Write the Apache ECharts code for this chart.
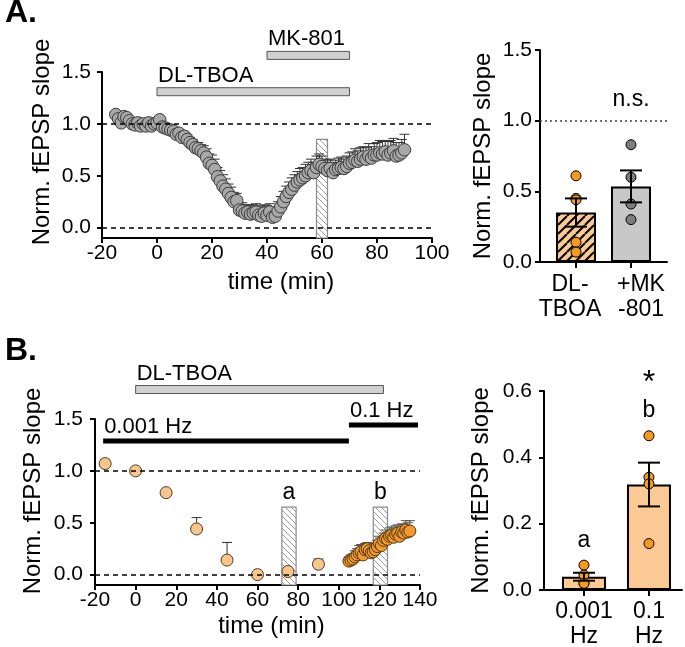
<!DOCTYPE html>
<html><head><meta charset="utf-8">
<script src="https://cdn.jsdelivr.net/npm/echarts@6/dist/echarts.min.js"></script>
<style>html,body{margin:0;padding:0;background:#fff}#c{width:685px;height:647px}</style>
</head><body><div id="c"></div>
<script>
// ---------- Panel A: time course ----------
const timeA = [-15,-14,-13,-12,-11,-10,-9,-8,-7,-6,-5,-4,-3,-2,-1,0,1,2,3,4,5,6,7,8,9,10,11,12,13,14,15,16,17,18,19,20,21,22,23,24,25,26,27,28,29,30,31,32,33,34,35,36,37,38,39,40,41,42,43,44,45,46,47,48,49,50,51,52,53,54,55,56,57,58,59,60,61,62,63,64,65,66,67,68,69,70,71,72,73,74,75,76,77,78,79,80,81,82,83,84,85,86,87,88,89,90];
const slopeA = [1.09,1.05,1.01,1.07,1.06,1.03,1.00,0.99,1.01,0.98,
  1.00,0.98,1.01,0.98,1.00,1.01,1.04,0.97,0.96,0.95,
  0.94,0.93,0.90,0.91,0.87,0.88,0.85,0.82,0.80,0.77,
  0.76,0.74,0.72,0.68,0.62,0.60,0.56,0.49,0.45,0.40,
  0.37,0.33,0.29,0.25,0.26,0.17,0.16,0.14,0.15,0.13,
  0.14,0.15,0.12,0.11,0.14,0.12,0.15,0.10,0.11,0.16,
  0.20,0.25,0.30,0.34,0.37,0.41,0.44,0.46,0.48,0.50,
  0.53,0.55,0.53,0.58,0.61,0.59,0.57,0.55,0.57,0.53,
  0.56,0.57,0.58,0.57,0.59,0.62,0.63,0.65,0.64,0.66,
  0.68,0.66,0.69,0.67,0.70,0.70,0.72,0.71,0.73,0.70,
  0.72,0.74,0.69,0.70,0.72,0.75];
const errA = [0.02,0.02,0.02,0.02,0.02,0.02,0.02,0.02,0.02,0.02,0.02,0.02,0.02,0.02,0.02,
  0.02,0.02,0.02,0.02,0.02,0.02,0.02,0.02,0.02,
  0.04,0.04,0.05,0.05,0.05,0.05,0.06,0.06,0.07,
  0.08,0.09,0.10,0.10,0.09,0.10,0.11,0.10,0.09,0.10,0.09,0.07,
  0.07,0.08,0.08,0.07,0.08,0.08,0.08,0.09,0.09,0.08,0.09,0.08,0.10,0.09,
  0.09,0.10,0.10,0.10,0.10,0.11,0.10,0.10,0.11,0.10,0.11,0.10,0.11,0.10,
  0.11,0.10,0.10,0.09,0.10,0.09,0.10,0.09,0.10,0.10,0.09,0.10,0.10,0.10,0.11,
  0.10,0.11,0.10,0.11,0.12,0.11,0.11,0.12,0.12,0.12,0.11,0.13,0.12,0.12,0.13,0.12,0.13,0.15];
const drugNamesA = ['DL-TBOA', 'MK-801'];
const drugStartA = [0, 40];
const drugEndA = [70, 70];
const windowStartA = [58];
const windowEndA = [62];

// ---------- Panel A: bar summary ----------
const catsA = ['DL-\nTBOA', '+MK\n-801'];
const meanA = [0.35, 0.535];
const semA = [0.10, 0.113];
const dotsA_TBOA = [0.61, 0.45, 0.44, 0.14, 0.07];
const dotsA_MK = [0.83, 0.60, 0.41, 0.30];

// ---------- Panel B: time course ----------
const timeB_slow = [-15, 0, 15, 30, 45, 60, 75, 90];
const slopeB_slow = [1.07, 1.00, 0.79, 0.44, 0.14, 0.00, 0.03, 0.10];
const errB_slow = [0.04, 0.02, 0.01, 0.11, 0.17, 0.01, 0.01, 0.05];
const timeB_fast = [105,106,107,108,109,110,111,112,113,114,115,116,117,118,119,120,121,122,123,124,125,126,127,128,129,130,131,132,133,134,135];
const slopeB_fast = [0.13,0.14,0.15,0.17,0.19,0.21,0.22,0.19,0.24,0.25,0.23,0.21,0.22,0.24,0.27,0.30,0.28,0.33,0.35,0.34,0.37,0.38,0.36,0.39,0.40,0.37,0.41,0.40,0.43,0.41,0.42];
const errB_fast = [0.04,0.05,0.05,0.06,0.06,0.07,0.07,0.06,0.06,0.06,0.05,0.05,0.05,0.06,0.06,0.07,0.07,0.07,0.08,0.07,0.08,0.08,0.07,0.08,0.08,0.07,0.08,0.08,0.09,0.09,0.10];
const drugNamesB = ['DL-TBOA'];
const drugStartB = [0];
const drugEndB = [122];
const freqNamesB = ['0.001 Hz', '0.1 Hz'];
const freqStartB = [-16, 105];
const freqEndB = [105, 139];
const windowStartB = [72, 117];
const windowEndB = [79, 124];
const windowLabelsB = ['a', 'b'];

// ---------- Panel B: bar summary ----------
const catsB = ['0.001\nHz', '0.1\nHz'];
const meanB = [0.04, 0.318];
const semB = [0.012, 0.066];
const dotsB_slow = [0.075, 0.045, 0.02, 0.02];
const dotsB_fast = [0.465, 0.34, 0.32, 0.14];
const sigLabelsB = ['a', 'b', '*'];

// ================= rendering =================
const FONT = '"Liberation Sans", Arial, Helvetica, sans-serif';

function hatch(bg, fg, size, lw, dir) {
  const c = document.createElement('canvas');
  c.width = size; c.height = size;
  const g = c.getContext('2d');
  if (bg) { g.fillStyle = bg; g.fillRect(0, 0, size, size); }
  g.strokeStyle = fg; g.lineWidth = lw;
  g.beginPath();
  for (const k of [-size, 0, size]) {
    if (dir === '/') { g.moveTo(k, size); g.lineTo(k + size, 0); }
    else { g.moveTo(k, 0); g.lineTo(k + size, size); }
  }
  g.stroke();
  return { image: c, repeat: 'repeat' };
}
const hatchBar = hatch('#fbc994', '#000', 9, 2, '/');
const hatchBox = hatch('#fff', '#9a9a9a', 6, 1, '\\');

function xAxisValue(gi, min, max, interval, name, nameGap) {
  return {
    type: 'value', gridIndex: gi, min, max, interval,
    name, nameLocation: 'middle', nameGap,
    nameTextStyle: { color: '#000', fontSize: 24, fontFamily: FONT, padding: [0, 0, 0, 28] },
    axisLine: { show: true, onZero: false, lineStyle: { color: '#000', width: 2 } },
    axisTick: { show: true, length: 5, lineStyle: { color: '#000', width: 2 } },
    splitLine: { show: false },
    axisLabel: { color: '#000', fontSize: 21, fontFamily: FONT, margin: 5, showMinLabel: true, showMaxLabel: true, hideOverlap: false }
  };
}
function xAxisCat(gi, min, max, cats, showLabels) {
  return {
    type: 'value', gridIndex: gi, min, max,
    axisLine: { show: true, onZero: false, lineStyle: { color: '#000', width: 2 } },
    axisTick: { show: true, length: 6, customValues: [0, 1], lineStyle: { color: '#000', width: 2 } },
    splitLine: { show: false },
    axisLabel: { show: showLabels, color: '#000', fontSize: 23, lineHeight: 25, fontFamily: FONT, margin: 9,
      showMinLabel: true, showMaxLabel: true, hideOverlap: false,
      customValues: [0, 1], formatter: v => cats[Math.abs(Math.round(v))] }
  };
}
function yAxisDef(gi, min, max, ticks, margin, nameGap, shift) {
  return {
    type: 'value', gridIndex: gi, min, max,
    name: 'Norm. fEPSP slope', nameLocation: 'middle', nameGap,
    nameTextStyle: { color: '#000', fontSize: 24, fontFamily: FONT, padding: [0, 0, 0, shift] },
    axisLine: { show: true, onZero: false, lineStyle: { color: '#000', width: 2 } },
    axisTick: { show: true, length: 5, customValues: ticks, lineStyle: { color: '#000', width: 2 } },
    splitLine: { show: false },
    axisLabel: { color: '#000', fontSize: 21, fontFamily: FONT, margin, showMinLabel: true, showMaxLabel: true,
      customValues: ticks, formatter: v => v.toFixed(1) }
  };
}

function upperErr(color) {
  return function (params, api) {
    const x = api.value(0), y = api.value(1), e = api.value(2);
    const p0 = api.coord([x, y]), p1 = api.coord([x, y + e]);
    const hw = 5;
    return { type: 'group', children: [
      { type: 'line', shape: { x1: p0[0], y1: p0[1], x2: p1[0], y2: p1[1] }, style: { stroke: color, lineWidth: 1 } },
      { type: 'line', shape: { x1: p1[0] - hw, y1: p1[1], x2: p1[0] + hw, y2: p1[1] }, style: { stroke: color, lineWidth: 1 } }
    ] };
  };
}
function bothErr(params, api) {
  const x = api.value(0), m = api.value(1), s = api.value(2);
  const a = api.coord([x, m + s]), b = api.coord([x, m - s]);
  const hw = 11;
  const st = { stroke: '#000', lineWidth: 2 };
  return { type: 'group', children: [
    { type: 'line', shape: { x1: a[0], y1: a[1], x2: b[0], y2: b[1] }, style: st },
    { type: 'line', shape: { x1: a[0] - hw, y1: a[1], x2: a[0] + hw, y2: a[1] }, style: st },
    { type: 'line', shape: { x1: b[0] - hw, y1: b[1], x2: b[0] + hw, y2: b[1] }, style: st }
  ] };
}
function windowBox(labels) {
  return function (params, api) {
    const a = api.coord([api.value(0), api.value(2)]);
    const b = api.coord([api.value(1), api.value(2)]);
    const cs = params.coordSys;
    const bottom = cs.y + cs.height;
    const ch = [{ type: 'rect', shape: { x: a[0], y: a[1], width: b[0] - a[0], height: bottom - a[1] },
      style: { fill: hatchBox, stroke: '#8a8a8a', lineWidth: 1.2 } }];
    if (labels && labels[params.dataIndex]) {
      ch.push({ type: 'text', x: (a[0] + b[0]) / 2, y: a[1] - 3,
        style: { text: labels[params.dataIndex], fill: '#000', fontSize: 23, fontFamily: FONT, align: 'center', verticalAlign: 'bottom' } });
    }
    return { type: 'group', children: ch };
  };
}
function annotBar(names, fill, stroke, thick, lw) {
  return function (params, api) {
    const a = api.coord([api.value(0), api.value(2)]);
    const b = api.coord([api.value(1), api.value(2)]);
    const top = a[1] - thick / 2;
    return { type: 'group', children: [
      { type: 'rect', shape: { x: a[0], y: top, width: b[0] - a[0], height: thick }, style: { fill, stroke, lineWidth: lw } },
      { type: 'text', x: a[0] + 1, y: top - 1,
        style: { text: names[params.dataIndex], fill: '#000', fontSize: 22, fontFamily: FONT, align: 'left', verticalAlign: 'bottom' } }
    ] };
  };
}
function textMarks(labels, sizes) {
  return function (params, api) {
    const p = api.coord([api.value(0), api.value(1)]);
    const i = params.dataIndex;
    return { type: 'text', x: p[0], y: p[1],
      style: { text: labels[i], fill: '#000', fontSize: sizes[i], fontFamily: FONT, align: 'center', verticalAlign: 'middle' } };
  };
}
function catLabels(labels, dx) {
  return function (params, api) {
    const i = params.dataIndex;
    const p = api.coord([api.value(0), api.value(1)]);
    return { type: 'text', x: p[0] + dx[i], y: p[1] + 10,
      style: { text: labels[i], fill: '#000', fontSize: 23, lineHeight: 25, fontFamily: FONT, align: 'center', verticalAlign: 'top' } };
  };
}

const zip3 = (a, b, c) => a.map((v, i) => [v, b[i], c[i]]);
const zip2 = (a, b) => a.map((v, i) => [v, b[i]]);

const dashed = (vals, type, color, width) => ({
  silent: true, symbol: 'none', animation: false, label: { show: false },
  lineStyle: { type, color, width }, data: vals.map(v => ({ yAxis: v }))
});

const option = {
  animation: false,
  grid: [
    { left: 102, top: 72, width: 330, height: 166, containLabel: false, outerBoundsMode: 'none' },
    { left: 540, top: 50, width: 127, height: 212, containLabel: false, outerBoundsMode: 'none' },
    { left: 95, top: 419, width: 325, height: 166, containLabel: false, outerBoundsMode: 'none' },
    { left: 544, top: 391, width: 138, height: 199, containLabel: false, outerBoundsMode: 'none' }
  ],
  xAxis: [
    xAxisValue(0, -20, 100, 20, 'time (min)', 32),
    xAxisCat(1, -0.655, 1.655, catsA, false),
    xAxisValue(2, -20, 140, 20, 'time (min)', 29),
    xAxisCat(3, -0.615, 1.508, catsB, true)
  ],
  yAxis: [
    yAxisDef(0, -0.1, 1.5, [0, 0.5, 1, 1.5], 11, 48, 26),
    yAxisDef(1, 0, 1.5, [0, 0.5, 1, 1.5], 8, 45, 0),
    yAxisDef(2, -0.1, 1.5, [0, 0.5, 1, 1.5], 12, 50, 22),
    yAxisDef(3, 0, 0.6, [0, 0.2, 0.4, 0.6], 12, 51, 0)
  ],
  graphic: [
    { type: 'text', left: 5, top: -3, style: { text: 'A.', fontSize: 32, fontWeight: 'bold', fontFamily: FONT, fill: '#000' } },
    { type: 'text', left: 5, top: 335, style: { text: 'B.', fontSize: 32, fontWeight: 'bold', fontFamily: FONT, fill: '#000' } }
  ],
  series: [
    // ---- A1 ----
    { type: 'custom', xAxisIndex: 0, yAxisIndex: 0, z: 1, clip: false,
      data: windowStartA.map((s, i) => [s, windowEndA[i], 0.85]), renderItem: windowBox(null) },
    { type: 'custom', xAxisIndex: 0, yAxisIndex: 0, z: 2,
      data: zip3(timeA, slopeA, errA), renderItem: upperErr('#333') },
    { type: 'scatter', xAxisIndex: 0, yAxisIndex: 0, z: 3, symbolSize: 12.5,
      itemStyle: { color: '#a8a8a8', borderColor: '#3a3a3a', borderWidth: 1, opacity: 1 },
      data: zip2(timeA, slopeA), markLine: dashed([1, 0], [5, 4], '#000', 1.5) },
    { type: 'custom', xAxisIndex: 0, yAxisIndex: 0, z: 4, clip: false,
      data: drugStartA.map((s, i) => [s, drugEndA[i], [1.31, 1.66][i]]),
      renderItem: annotBar(drugNamesA, '#d0d0d0', '#555', 8, 1) },
    // ---- A2 ----
    { type: 'bar', xAxisIndex: 1, yAxisIndex: 1, z: 1, barWidth: 40,
      data: meanA.map((m, i) => ({ value: [i, m], itemStyle: { color: i === 0 ? hatchBar : '#c8c8c8', borderColor: '#000', borderWidth: 2 } })) },
    { type: 'scatter', xAxisIndex: 1, yAxisIndex: 1, z: 2, symbolSize: 10,
      itemStyle: { color: '#f39a1f', borderColor: '#000', borderWidth: 1, opacity: 1 },
      data: dotsA_TBOA.map(v => [0, v]) },
    { type: 'scatter', xAxisIndex: 1, yAxisIndex: 1, z: 2, symbolSize: 10,
      itemStyle: { color: '#7d7d7d', borderColor: '#000', borderWidth: 1, opacity: 1 },
      data: dotsA_MK.map(v => [1, v]), markLine: dashed([1], [2, 3], '#444', 1.5) },
    { type: 'custom', xAxisIndex: 1, yAxisIndex: 1, z: 3,
      data: meanA.map((m, i) => [i, m, semA[i]]), renderItem: bothErr },
    { type: 'custom', xAxisIndex: 1, yAxisIndex: 1, z: 4, clip: false,
      data: [[1, 1.15]], renderItem: textMarks(['n.s.'], [23]) },
    { type: 'custom', xAxisIndex: 1, yAxisIndex: 1, z: 4, clip: false,
      data: catsA.map((c, i) => [i, 0]), renderItem: catLabels(catsA, [-6, 10]) },
    // ---- B1 ----
    { type: 'custom', xAxisIndex: 2, yAxisIndex: 2, z: 1, clip: false,
      data: windowStartB.map((s, i) => [s, windowEndB[i], 0.65]), renderItem: windowBox(windowLabelsB) },
    { type: 'custom', xAxisIndex: 2, yAxisIndex: 2, z: 2,
      data: zip3(timeB_slow, slopeB_slow, errB_slow), renderItem: upperErr('#333') },
    { type: 'custom', xAxisIndex: 2, yAxisIndex: 2, z: 2,
      data: zip3(timeB_fast, slopeB_fast, errB_fast), renderItem: upperErr('#555') },
    { type: 'scatter', xAxisIndex: 2, yAxisIndex: 2, z: 3, symbolSize: 12,
      itemStyle: { color: '#f8c68b', borderColor: '#4a3a2a', borderWidth: 1, opacity: 1 },
      data: zip2(timeB_slow, slopeB_slow), markLine: dashed([1, 0], [5, 4], '#000', 1.5) },
    { type: 'scatter', xAxisIndex: 2, yAxisIndex: 2, z: 3, symbolSize: 12,
      itemStyle: { color: '#f09a30', borderColor: '#5a3810', borderWidth: 1, opacity: 1 },
      data: zip2(timeB_fast, slopeB_fast) },
    { type: 'custom', xAxisIndex: 2, yAxisIndex: 2, z: 4, clip: false,
      data: drugStartB.map((s, i) => [s, drugEndB[i], 1.784]),
      renderItem: annotBar(drugNamesB, '#d0d0d0', '#555', 8, 1) },
    { type: 'custom', xAxisIndex: 2, yAxisIndex: 2, z: 4, clip: false,
      data: freqStartB.map((s, i) => [s, freqEndB[i], [1.288, 1.442][i]]),
      renderItem: annotBar(freqNamesB, '#000', null, 5, 0) },
    // ---- B2 ----
    { type: 'bar', xAxisIndex: 3, yAxisIndex: 3, z: 1, barWidth: 44,
      itemStyle: { color: '#fbca94', borderColor: '#000', borderWidth: 2 },
      data: meanB.map((m, i) => [i, m]) },
    { type: 'scatter', xAxisIndex: 3, yAxisIndex: 3, z: 2, symbolSize: 10,
      itemStyle: { color: '#f39a1f', borderColor: '#000', borderWidth: 1, opacity: 1 },
      data: dotsB_slow.map(v => [0, v]).concat(dotsB_fast.map(v => [1, v])) },
    { type: 'custom', xAxisIndex: 3, yAxisIndex: 3, z: 3,
      data: meanB.map((m, i) => [i, m, semB[i]]), renderItem: bothErr },
    { type: 'custom', xAxisIndex: 3, yAxisIndex: 3, z: 4, clip: false,
      data: [[0, 0.15], [1, 0.54], [1, 0.625]], renderItem: textMarks(sigLabelsB, [23, 23, 32]) }
  ]
};

const chart = echarts.init(document.getElementById('c'), null, { renderer: 'canvas' });
chart.setOption(option);
</script>
</body></html>
